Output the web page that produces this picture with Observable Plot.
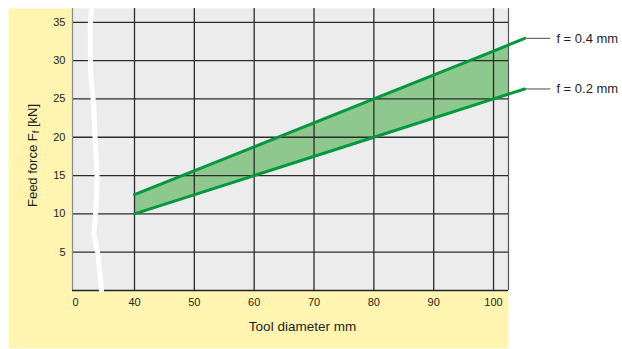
<!DOCTYPE html>
<html>
<head>
<meta charset="utf-8">
<script src="https://cdn.jsdelivr.net/npm/d3@7"></script>
<script src="https://cdn.jsdelivr.net/npm/@observablehq/plot@0.6"></script>
<style>
  html, body { margin: 0; padding: 0; background: #ffffff; }
  #chart svg { display: block; font-family: "Liberation Sans", Arial, sans-serif; }
</style>
</head>
<body>
<div id="chart"></div>
<script>
// Tool diameter (mm) and feed force (kN)
const diameters = [40, 60, 80, 100, 105.2];
const forceF02 = [10, 15, 20, 25, 26.3];     // f = 0.2 mm
const forceF04 = [12.5, 18.75, 25, 31.25, 32.9]; // f = 0.4 mm
const seriesLabels = ["f = 0.4 mm", "f = 0.2 mm"];

const xTicks = [0, 40, 50, 60, 70, 80, 90, 100];
const xGrid = [40, 50, 60, 70, 80, 90, 100];
const yTicks = [5, 10, 15, 20, 25, 30, 35];

// axis-break squiggle (data units)
const breakX = [10.9, 10.0, 10.2, 12.4, 13.1, 13.6, 14.7, 13.6, 12.4, 15.4, 17.6];
const breakY = [36.8, 34.6, 28.5, 24.2, 20.6, 18.9, 14.6, 9.8, 7.4, 4.6, 0];

const xTitle = "Tool diameter mm";
const yTitle = "Feed force Ff [kN]";

const rows = diameters.map((d, i) => ({d, lo: forceF02[i], hi: forceF04[i]}));
const breakPts = breakX.map((x, i) => ({x, y: breakY[i]}));
const ends = [
  {d: diameters[diameters.length - 1], v: forceF04[forceF04.length - 1], label: seriesLabels[0]},
  {d: diameters[diameters.length - 1], v: forceF02[forceF02.length - 1], label: seriesLabels[1]}
];

const xDomain = [-2, 40, 102.5];
const yDomain = [0, 36.8];

const green = "#00983f";
const fillGreen = "#8ec88f";
const grid = "#2b2b2b";
const ink = "#1e1e1e";

const chart = Plot.plot({
  width: 622,
  height: 349,
  marginLeft: 72,
  marginRight: 114,
  marginTop: 8,
  marginBottom: 59,
  style: {background: "transparent", fontFamily: "Liberation Sans, Arial, sans-serif"},
  x: {type: "linear", domain: xDomain, range: [72, 134, 508]},
  y: {type: "linear", domain: yDomain, range: [290, 8]},
  marks: [
    Plot.frame({fill: "#fff5b1", stroke: null, insetLeft: -64, insetBottom: -58}),
    Plot.frame({fill: "#ebeceb", stroke: null}),
    Plot.areaY(rows, {x: "d", y1: "lo", y2: "hi", fill: fillGreen, clip: true}),
    Plot.ruleX(xGrid, {stroke: grid, strokeWidth: 1.3}),
    Plot.ruleY(yTicks, {stroke: grid, strokeWidth: 1.3}),
    Plot.ruleX([xDomain[0]], {stroke: "#8a8a8a", strokeWidth: 1.2}),
    Plot.ruleX([xDomain[2]], {stroke: "#555", strokeWidth: 1.2}),
    Plot.ruleY([0], {stroke: "#222", strokeWidth: 1.3}),
    Plot.line(rows, {x: "d", y: "lo", stroke: green, strokeWidth: 3}),
    Plot.line(rows, {x: "d", y: "hi", stroke: green, strokeWidth: 3}),
    Plot.line(breakPts, {x: "x", y: "y", stroke: "#ffffff", strokeWidth: 5, curve: "linear"}),
    Plot.link(ends, {x1: "d", x2: (e) => e.d + 4.3, y1: "v", y2: "v", stroke: "#6b6b6b", strokeWidth: 1.2}),
    Plot.text(ends, {x: (e) => e.d + 4.3, y: "v", text: "label", textAnchor: "start", dx: 6, fontSize: 13, fill: ink}),
    Plot.axisX(xTicks, {tickSize: 0, tickPadding: 8, fontSize: 11, color: ink, label: null}),
    Plot.axisY(yTicks, {tickSize: 0, tickPadding: 7, fontSize: 11, color: ink, label: null}),
    Plot.text([xTitle], {frameAnchor: "bottom", lineAnchor: "middle", textAnchor: "middle", dx: 12, dy: 36, fontSize: 13.5, fill: ink}),
    Plot.text([yTitle], {frameAnchor: "left", textAnchor: "middle", lineAnchor: "middle", rotate: -90, dx: -40, dy: 6, fontSize: 13, fill: ink})
  ]
});

document.getElementById("chart").appendChild(chart);

// subscript "f" in the y-axis title
d3.select(chart).selectAll("text").each(function () {
  if (this.textContent === yTitle) {
    const t = d3.select(this);
    t.text(null);
    t.append("tspan").text("Feed force F");
    t.append("tspan").attr("font-size", 9.5).attr("baseline-shift", "-20%").text("f");
    t.append("tspan").text(" [kN]");
  }
});
</script>
</body>
</html>
